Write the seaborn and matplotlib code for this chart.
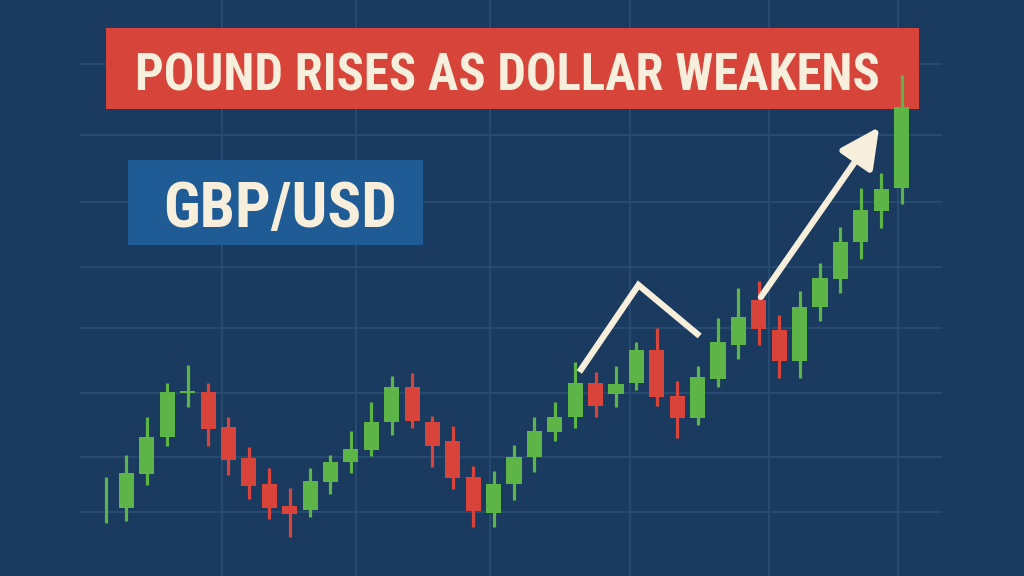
import numpy as np
import pandas as pd
import seaborn as sns
import matplotlib.pyplot as plt
from matplotlib import font_manager
from matplotlib.patches import Rectangle

# 1. Data: GBP/USD candles (one per session)
opens = [1.2128, 1.2112, 1.2180, 1.2254, 1.2342, 1.2344, 1.2274, 1.2212, 1.2160, 1.2116,
         1.2108, 1.2164, 1.2204, 1.2228, 1.2284, 1.2354, 1.2284, 1.2246, 1.2174, 1.2102,
         1.2160, 1.2214, 1.2264, 1.2294, 1.2362, 1.2340, 1.2362, 1.2428, 1.2336, 1.2292,
         1.2370, 1.2438, 1.2528, 1.2468, 1.2406, 1.2514, 1.2570, 1.2644, 1.2706, 1.2752]
highs = [1.2174, 1.2218, 1.2294, 1.2362, 1.2398, 1.2362, 1.2294, 1.2234, 1.2192, 1.2152,
         1.2192, 1.2218, 1.2266, 1.2324, 1.2376, 1.2382, 1.2296, 1.2276, 1.2196, 1.2186,
         1.2238, 1.2294, 1.2324, 1.2404, 1.2384, 1.2396, 1.2444, 1.2472, 1.2366, 1.2396,
         1.2492, 1.2552, 1.2566, 1.2498, 1.2546, 1.2602, 1.2674, 1.2752, 1.2782, 1.2978]
lows = [1.2082, 1.2086, 1.2158, 1.2236, 1.2314, 1.2236, 1.2178, 1.2130, 1.2090, 1.2054,
        1.2094, 1.2140, 1.2182, 1.2216, 1.2258, 1.2272, 1.2194, 1.2150, 1.2074, 1.2074,
        1.2128, 1.2184, 1.2246, 1.2272, 1.2294, 1.2314, 1.2348, 1.2316, 1.2252, 1.2278,
        1.2354, 1.2410, 1.2438, 1.2372, 1.2372, 1.2486, 1.2542, 1.2610, 1.2672, 1.2720]
closes = [1.2128, 1.2182, 1.2254, 1.2344, 1.2346, 1.2270, 1.2208, 1.2156, 1.2112, 1.2100,
          1.2166, 1.2204, 1.2230, 1.2284, 1.2354, 1.2286, 1.2236, 1.2172, 1.2106, 1.2160,
          1.2214, 1.2266, 1.2294, 1.2362, 1.2316, 1.2360, 1.2428, 1.2334, 1.2292, 1.2374,
          1.2444, 1.2494, 1.2470, 1.2406, 1.2514, 1.2572, 1.2644, 1.2708, 1.2750, 1.2914]

# price levels / sessions where the background grid sits
grid_levels = [1.3000, 1.2858, 1.2724, 1.2594, 1.2472, 1.2342, 1.2214, 1.2104]
grid_sessions = [5.7, 12.25, 18.8, 25.7, 32.5, 38.8]

# hand-drawn trend marks (session, price)
zigzag = [(23.2, 1.2384), (26.1, 1.2558), (29.1, 1.2456)]
trend_arrow = [(32.1, 1.2534), (37.9, 1.2874)]

title_text = "POUND RISES AS DOLLAR WEAKENS"
pair_text = "GBP/USD"

df = pd.DataFrame({"open": opens, "high": highs, "low": lows, "close": closes})
df["session"] = np.arange(len(df))
df["up"] = df["close"] >= df["open"]

# 2. Colours
BG = "#1a3b5f"
GRID = "#294c72"
GREEN = "#5db547"
RED = "#d9443a"
BANNER = "#d6443a"
BOX = "#1f5b94"
CREAM = "#f8eedc"

sns.set_theme(style="dark", rc={"axes.facecolor": BG, "figure.facecolor": BG})

# look for a condensed bold face for the headlines
fam_pref = ["Liberation Sans Narrow", "Roboto Condensed", "Open Sans Condensed",
            "Noto Sans", "DejaVu Sans", "Roboto", "Open Sans", "Inter", "Liberation Sans"]
narrow = ("condensed", "semi-condensed", "extra-condensed", "ultra-condensed")
cands = [f for f in font_manager.fontManager.ttflist
         if (f.stretch in narrow or "Narrow" in f.name or "Condensed" in f.name)]
head_family, head_stretch = "Liberation Sans", "normal"
for fam in fam_pref:
    hit = [f for f in cands if f.name == fam]
    if hit:
        head_family, head_stretch = fam, hit[0].stretch
        break
plt.rcParams["font.family"] = [head_family, "DejaVu Sans"]

fig = plt.figure(figsize=(10.24, 5.76), dpi=100)
ax = fig.add_axes([0, 0, 1, 1])
ax.set_xlim(-5.2, 45.0)
ax.set_ylim(1.1976, 1.3128)
for s in ax.spines.values():
    s.set_visible(False)

# grid
ax.set_xticks(grid_sessions)
ax.set_yticks([])
ax.tick_params(length=0, labelbottom=False, labelleft=False)
ax.grid(axis="x", color=GRID, lw=1.3, zorder=0)
ax.hlines(grid_levels, -1.27, 41.0, color=GRID, lw=1.3, zorder=0)

# title banner + pair label box
ax.add_patch(Rectangle((0.1035, 0.8108), 0.794, 0.1406, transform=ax.transAxes,
                       color=BANNER, zorder=2, lw=0))
ax.add_patch(Rectangle((0.125, 0.5747), 0.288, 0.1476, transform=ax.transAxes,
                       color=BOX, zorder=2, lw=0))

# candles
colors = [GREEN if u else RED for u in df["up"]]
body_lo = np.minimum(df["open"], df["close"])
body_h = np.abs(df["close"] - df["open"])
ax.vlines(df["session"], df["low"], df["high"], colors=colors, lw=2.3, zorder=3)
ax.bar(df["session"], body_h, bottom=body_lo, width=0.74, color=colors, lw=0, zorder=4)

# trend marks
zx, zy = zip(*zigzag)
ax.plot(zx, zy, color=CREAM, lw=4.5, solid_capstyle="butt", solid_joinstyle="miter", zorder=5)
ax.annotate("", xy=trend_arrow[1], xytext=trend_arrow[0],
            arrowprops=dict(arrowstyle="-|>,head_length=1.2,head_width=0.6",
                            mutation_scale=20, lw=4.5, color=CREAM,
                            shrinkA=0, shrinkB=0),
            zorder=5)

# headline texts, fitted to their boxes
t1 = ax.text(0.495, 0.8437, title_text, transform=ax.transAxes, ha="center", va="baseline",
             fontsize=40, fontweight="bold", fontstretch=head_stretch, color=CREAM, zorder=6)
t2 = ax.text(0.2734, 0.6059, pair_text, transform=ax.transAxes, ha="center", va="baseline",
             fontsize=44, fontweight="bold", fontstretch=head_stretch, color=CREAM, zorder=6)
fig.canvas.draw()
r = fig.canvas.get_renderer()
for t, target in [(t1, 744), (t2, 234)]:
    w = t.get_window_extent(r).width
    t.set_fontsize(t.get_fontsize() * target / w)

plt.savefig("out.png", dpi=100, facecolor=BG)
